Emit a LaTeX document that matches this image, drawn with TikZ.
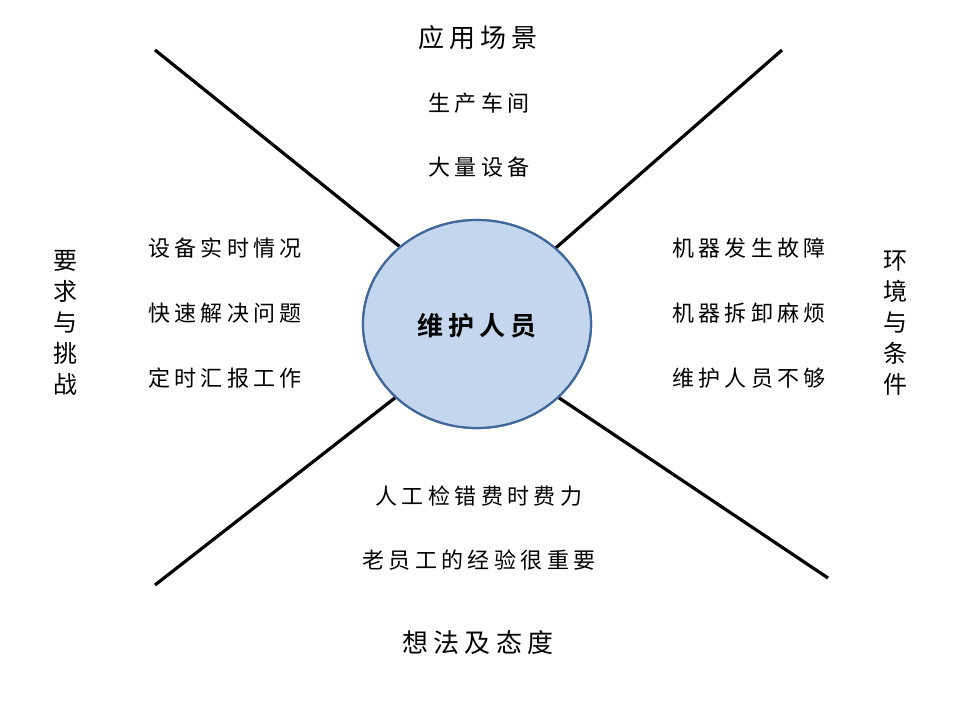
\documentclass[tikz,border=0pt]{standalone}
\usepackage{fontspec}
\usetikzlibrary{shapes.geometric}
\newfontfamily\cjk[LetterSpace=20]{Noto Sans CJK SC}
\newfontfamily\cjkb[LetterSpace=18]{Noto Sans CJK SC Bold}
\definecolor{cfill}{HTML}{C5D7EE}
\definecolor{cline}{HTML}{41689A}
\begin{document}
\begin{tikzpicture}[x=1pt,y=-1pt,
  ray/.style={line width=3.2pt,black},
  hub/.style={ellipse,draw=cline,fill=cfill,line width=2.2pt,minimum width=228pt,minimum height=208pt,inner sep=0pt},
  head/.style={font=\cjk\fontsize{26}{30}\selectfont,inner sep=0pt},
  item/.style={font=\cjk\fontsize{22}{26}\selectfont,inner sep=0pt},
  vhead/.style={font=\cjk\fontsize{24}{31}\selectfont,inner sep=0pt,align=center}]
\useasboundingbox (0,0) rectangle (960,720);
\coordinate (tl) at (155,50);
\coordinate (tr) at (782,50);
\coordinate (bl) at (155,585);
\coordinate (br) at (828,578);
\node[hub] (c) at (477,324) {};
\draw[ray] (tl) -- (c.135);
\draw[ray] (tr) -- (c.44);
\draw[ray] (bl) -- (c.222);
\draw[ray] (br) -- (c.318);
\node[hub] (c2) at (477,324) {};
\node[font=\cjkb\fontsize{26}{30}\selectfont,inner sep=0pt] (ct) at (477,326) {维护人员};
\node[head] (h1) at (478,38) {应用场景};
\node[item] (a1) at (479,103) {生产车间};
\node[item] (a2) at (479,167) {大量设备};
\node[item] (l1) at (225,248) {设备实时情况};
\node[item] (l2) at (225,313) {快速解决问题};
\node[item] (l3) at (225,378) {定时汇报工作};
\node[item] (r1) at (749,248) {机器发生故障};
\node[item] (r2) at (749,313) {机器拆卸麻烦};
\node[item] (r3) at (749,378) {维护人员不够};
\node[item] (b1) at (479,496) {人工检错费时费力};
\node[item] (b2) at (479,560) {老员工的经验很重要};
\node[head] (h2) at (478,643) {想法及态度};
\node[vhead] (vl) at (65,323) {要\\求\\与\\挑\\战};
\node[vhead] (vr) at (895,323) {环\\境\\与\\条\\件};
\end{tikzpicture}
\end{document}
